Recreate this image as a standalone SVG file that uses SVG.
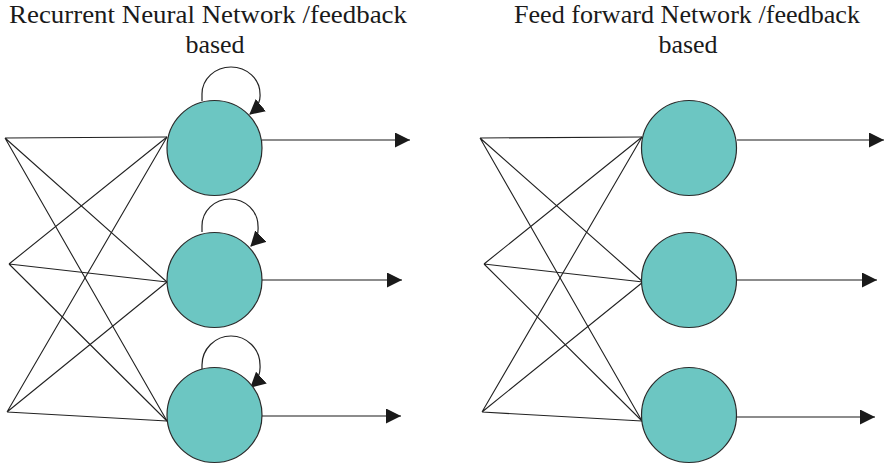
<svg xmlns="http://www.w3.org/2000/svg" width="885" height="466" viewBox="0 0 885 466">
<style>
.title{font-family:"Liberation Serif","Times New Roman",serif;font-size:26px;fill:#1a1a1a;text-anchor:middle}
.node{fill:#6CC6C2;stroke:#2a2a2a;stroke-width:1.2}
.w{stroke:#222;stroke-width:1.1;fill:none}
.out{stroke:#666;stroke-width:1.5;fill:none}
.loop{stroke:#222;stroke-width:1.2;fill:none}
</style>
<defs>
<marker id="ah" markerWidth="15" markerHeight="15" refX="15" refY="7.5" orient="auto" markerUnits="userSpaceOnUse">
<path d="M0,0 L15,7.5 L0,15 Z" fill="#1a1a1a"/>
</marker>
<marker id="lh" markerWidth="15" markerHeight="16" refX="14" refY="8" orient="auto" markerUnits="userSpaceOnUse">
<path d="M0,0 L15,8 L0,16 Z" fill="#1a1a1a"/>
</marker>
</defs>
<rect width="885" height="466" fill="#fff"/>
<g id="titles">
<text class="title" x="208" y="23" textLength="398" lengthAdjust="spacingAndGlyphs">Recurrent Neural Network /feedback</text>
<text class="title" x="215" y="53">based</text>
<text class="title" x="687" y="23" textLength="346" lengthAdjust="spacingAndGlyphs">Feed forward Network /feedback</text>
<text class="title" x="688" y="53">based</text>
</g>
<g id="connectors">
<g class="w">
<path d="M5,138 L167,137 M5,138 L167,282 M5,138 L167,421"/>
<path d="M9,264 L167,137 M9,264 L167,282 M9,264 L167,421"/>
<path d="M7,412 L167,137 M7,412 L167,282 M7,412 L167,421"/>
<path d="M480,138 L642,137 M480,138 L643,282 M480,138 L642,421"/>
<path d="M484,264 L642,137 M484,264 L643,282 M484,264 L642,421"/>
<path d="M482,412 L642,137 M482,412 L643,282 M482,412 L642,421"/>
</g>
<g class="out">
<line x1="262" y1="140" x2="410" y2="140" marker-end="url(#ah)"/>
<line x1="262" y1="280" x2="402" y2="280" marker-end="url(#ah)"/>
<line x1="262" y1="416" x2="401" y2="416" marker-end="url(#ah)"/>
<line x1="737" y1="140" x2="884" y2="140" marker-end="url(#ah)"/>
<line x1="737" y1="280" x2="877" y2="280" marker-end="url(#ah)"/>
<line x1="737" y1="417" x2="875" y2="417" marker-end="url(#ah)"/>
</g>
<g class="loop">
<path d="M202,101 V94 A29,27 0 0 1 260,94 Q261,105 250,114" marker-end="url(#lh)"/>
<path d="M202,232 V226 A28,27 0 0 1 258,226 Q259,238 251,246" marker-end="url(#lh)"/>
<path d="M202,372 V365 A29,29 0 0 1 260,365 Q261,378 251,387" marker-end="url(#lh)"/>
</g>
</g>
<g id="rnn1"><circle class="node" cx="214.5" cy="148" r="47.5"/></g>
<g id="rnn2"><circle class="node" cx="214.5" cy="280" r="47.5"/></g>
<g id="rnn3"><circle class="node" cx="214.5" cy="415" r="47.5"/></g>
<g id="ff1"><circle class="node" cx="689" cy="148" r="47.5"/></g>
<g id="ff2"><circle class="node" cx="689" cy="280" r="47.5"/></g>
<g id="ff3"><circle class="node" cx="689" cy="415" r="47.5"/></g>
</svg>
